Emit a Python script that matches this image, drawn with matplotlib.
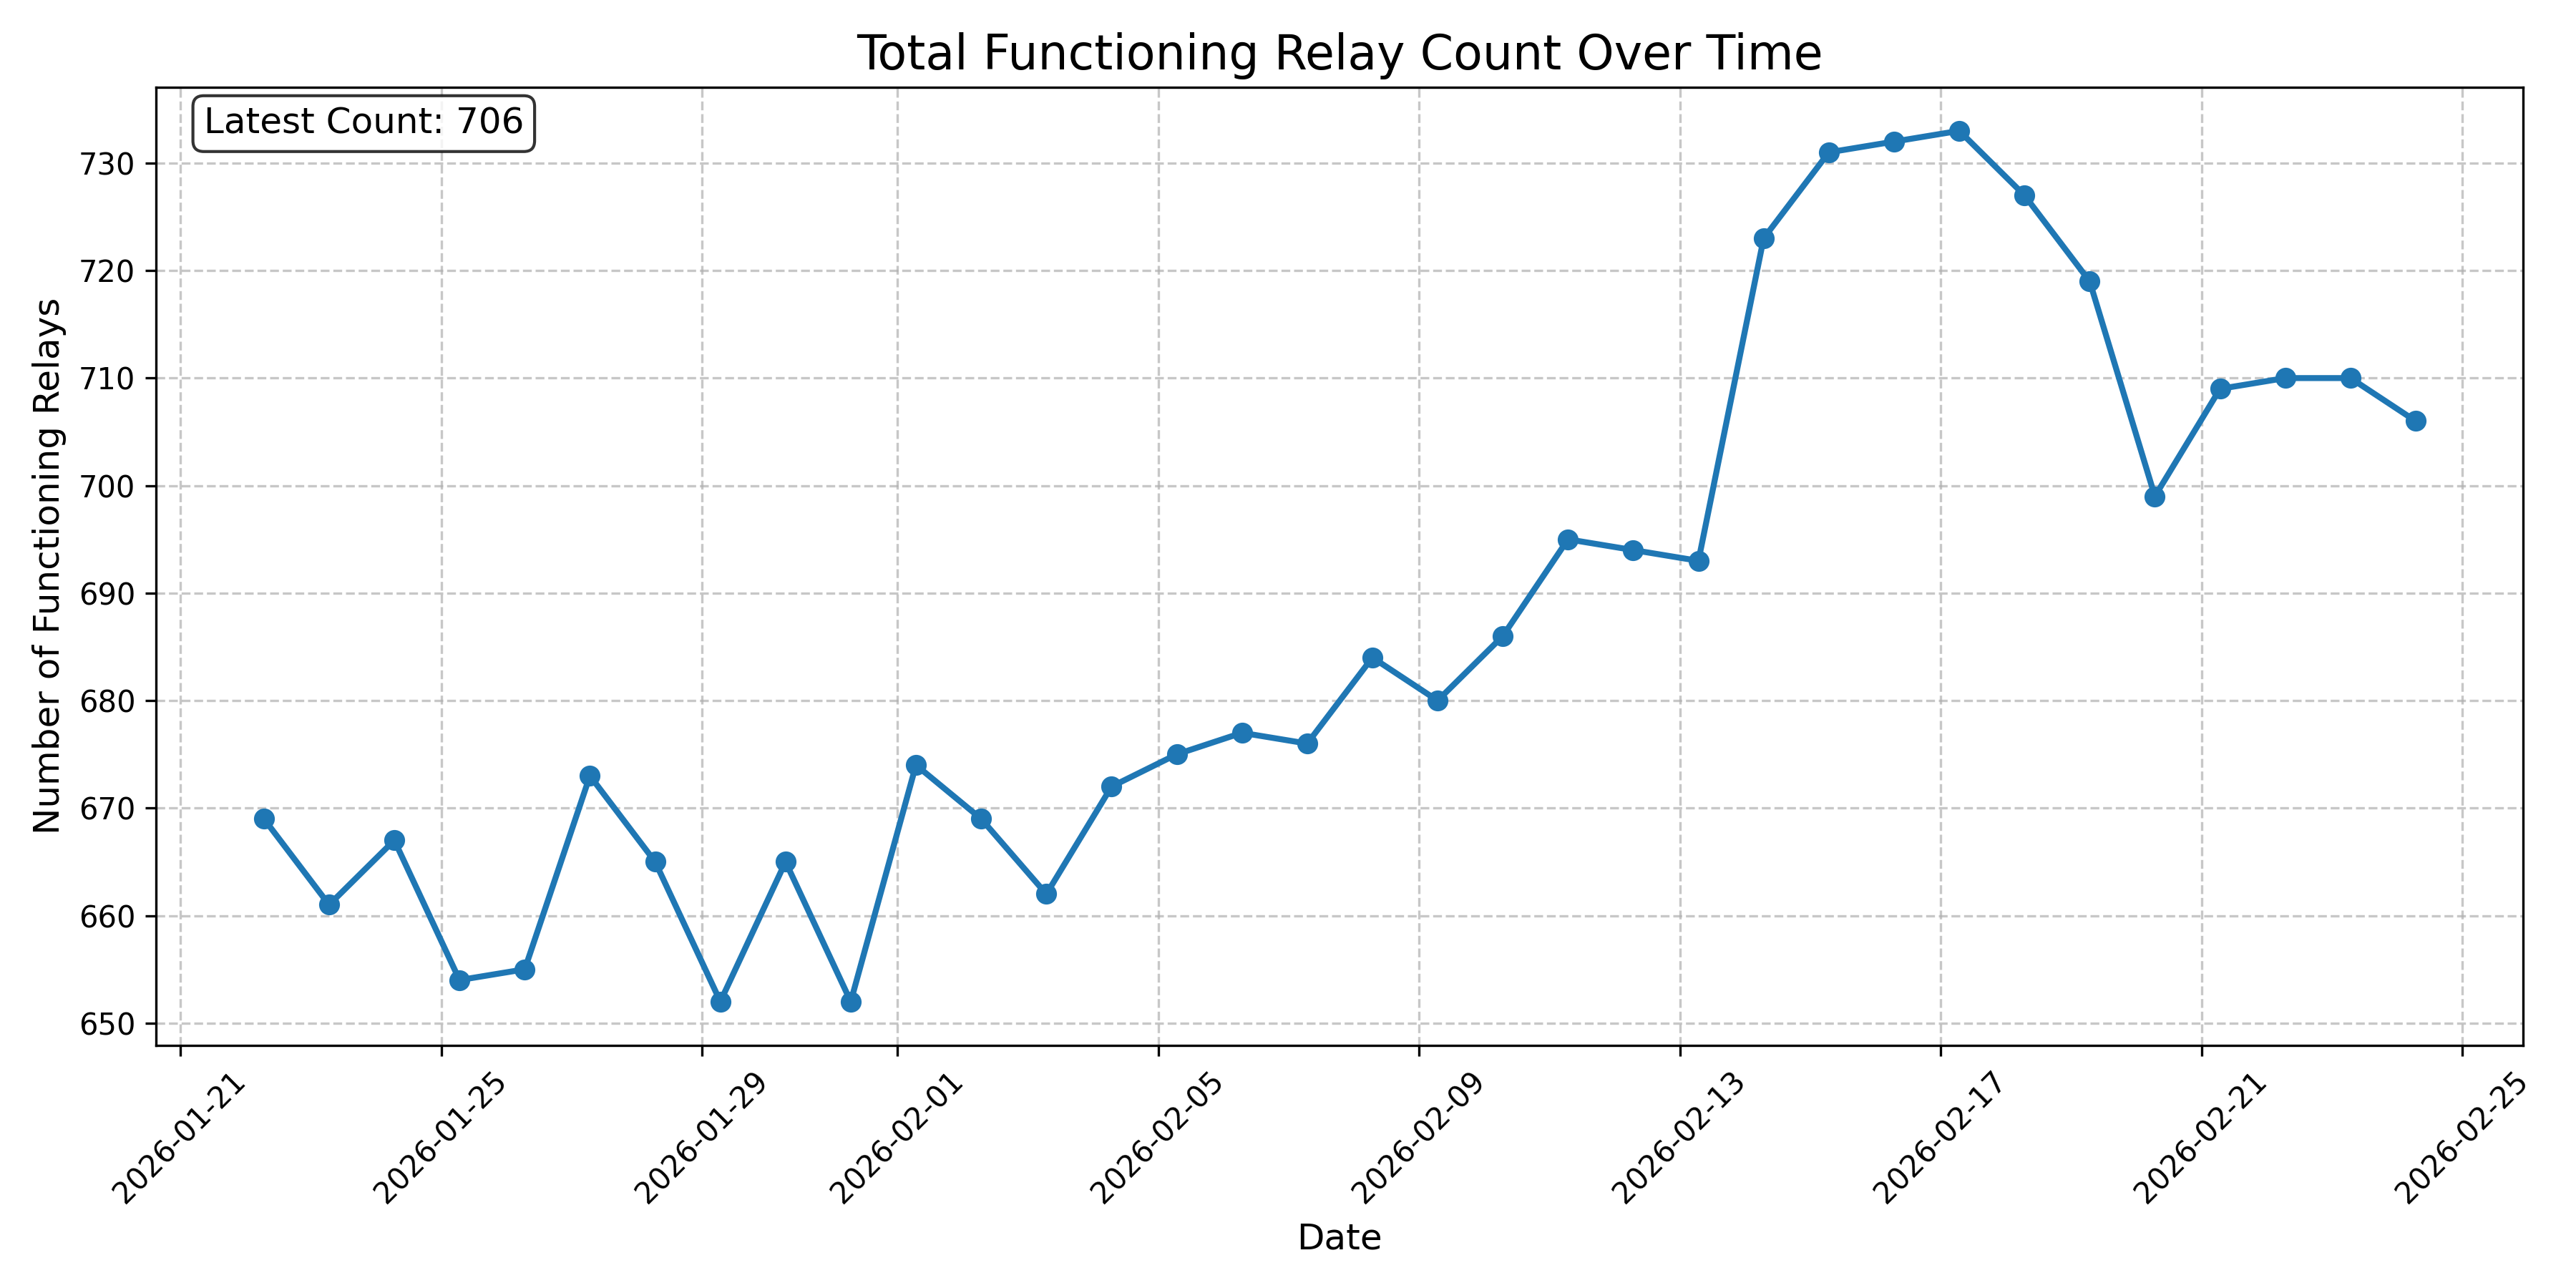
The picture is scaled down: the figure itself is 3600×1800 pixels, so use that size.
import numpy as np
import pandas as pd
import matplotlib
matplotlib.use("Agg")
import matplotlib.pyplot as plt

# relay counts, one per day
dates = pd.date_range("2026-01-22 06:45", periods=34, freq="D")
counts = [669, 661, 667, 654, 655, 673, 665, 652, 665, 652,
          674, 669, 662, 672, 675, 677, 676, 684, 680, 686,
          695, 694, 693, 723, 731, 732, 733, 727, 719, 699,
          709, 710, 710, 706]

fig, ax = plt.subplots(figsize=(12, 6), dpi=300)
ax.plot(dates, counts, marker='o', linestyle='-', linewidth=2, markersize=6)
ax.set_title('Total Functioning Relay Count Over Time', fontsize=16)
ax.set_xlabel('Date', fontsize=12)
ax.set_ylabel('Number of Functioning Relays', fontsize=12)
ax.grid(True, linestyle='--', alpha=0.7)
plt.xticks(rotation=45)

ax.text(0.02, 0.98, f'Latest Count: {counts[-1]}', transform=ax.transAxes,
        fontsize=12, verticalalignment='top',
        bbox=dict(boxstyle='round', facecolor='white', alpha=0.8))

plt.tight_layout()
plt.savefig('out.png', dpi=300)
